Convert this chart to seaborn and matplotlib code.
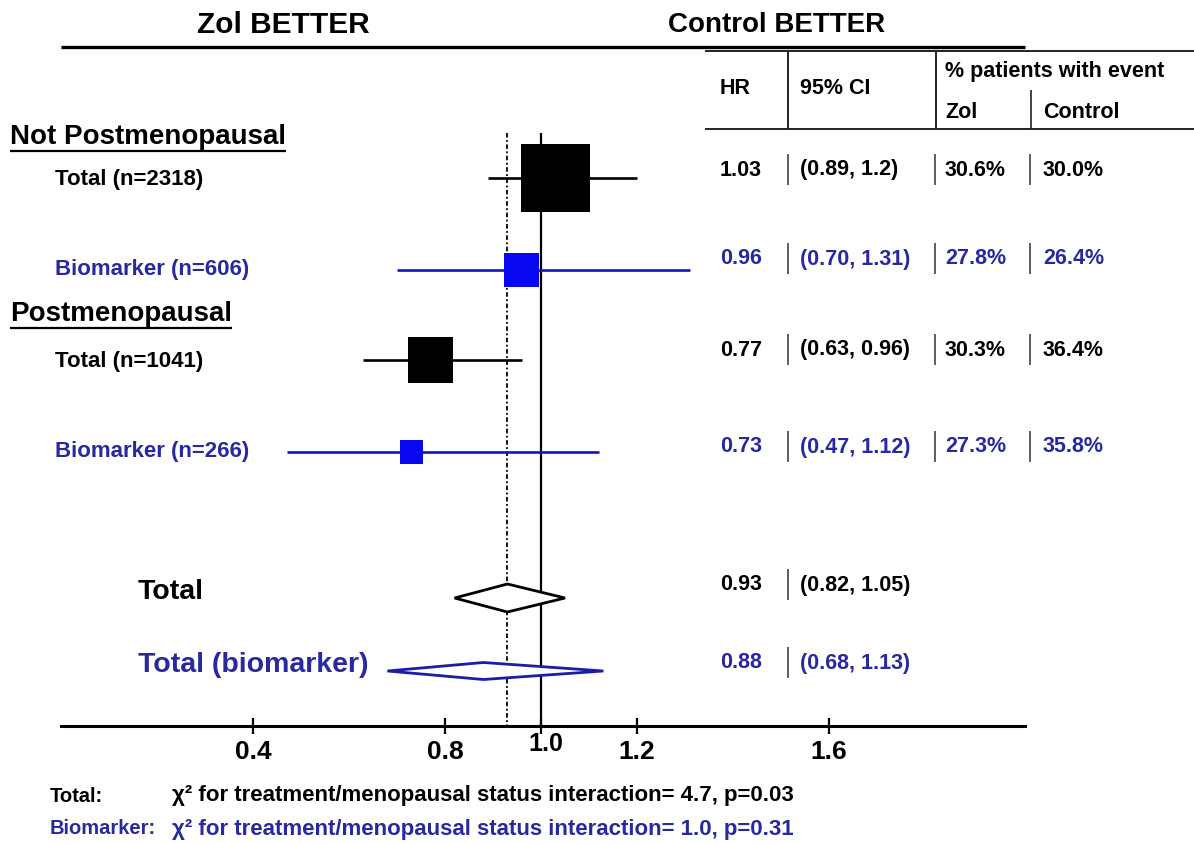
import numpy as np
import pandas as pd
import matplotlib
matplotlib.use("Agg")
import matplotlib.pyplot as plt
import seaborn as sns

# ---------------- data ----------------
groups = ["Not Postmenopausal", "Postmenopausal"]
row_labels = ["Total (n=2318)", "Biomarker (n=606)", "Total (n=1041)", "Biomarker (n=266)"]
row_n = [2318, 606, 1041, 266]
row_kind = ["total", "bio", "total", "bio"]
row_hr = [1.03, 0.96, 0.77, 0.73]
row_lo = [0.89, 0.70, 0.63, 0.47]
row_hi = [1.20, 1.31, 0.96, 1.12]
row_hr_text = ["1.03", "0.96", "0.77", "0.73"]
row_ci_text = ["(0.89, 1.2)", "(0.70, 1.31)", "(0.63, 0.96)", "(0.47, 1.12)"]
row_pct_zol = ["30.6%", "27.8%", "30.3%", "27.3%"]
row_pct_ctrl = ["30.0%", "26.4%", "36.4%", "35.8%"]

sum_labels = ["Total", "Total (biomarker)"]
sum_kind = ["total", "bio"]
sum_hr = [0.93, 0.88]
sum_lo = [0.82, 0.68]
sum_hi = [1.05, 1.13]
sum_hr_text = ["0.93", "0.88"]
sum_ci_text = ["(0.82, 1.05)", "(0.68, 1.13)"]

xticks = [0.4, 0.8, 1.0, 1.2, 1.6]
xtick_labels = ["0.4", "0.8", "1.0", "1.2", "1.6"]

footer_left = ["Total:", "Biomarker:"]
footer_right = ["\u03c7\u00b2 for treatment/menopausal status interaction= 4.7, p=0.03",
                "\u03c7\u00b2 for treatment/menopausal status interaction= 1.0, p=0.31"]

# ---------------- style ----------------
sns.set_theme(style="white")
plt.rcParams['font.family'] = ['Liberation Sans', 'DejaVu Sans']
plt.rcParams['font.weight'] = 'bold'

BLACK = "#000000"
TXT_BLUE = "#2828a0"
SQ_BLUE = "#0808f0"
LN_BLUE = "#1414c0"
DM_BLUE = "#1c1ca8"
text_col = {"total": BLACK, "bio": TXT_BLUE}
mark_col = {"total": BLACK, "bio": SQ_BLUE}
line_col = {"total": BLACK, "bio": LN_BLUE}
diam_col = {"total": BLACK, "bio": DM_BLUE}

W, H = 1194, 843
fig = plt.figure(figsize=(W / 100, H / 100), dpi=100)
fig.patch.set_facecolor("white")

# main forest axes: x in HR units, y in row-pixel units
ax_left, ax_right, ax_bottom = 61, 1025, 726
ax = fig.add_axes([ax_left / W, (H - ax_bottom) / H, (ax_right - ax_left) / W, ax_bottom / H])
ax.set_facecolor("none")
xmax = (ax_right - ax_left) / 480.0
ax.set_xlim(0, xmax)
ax.set_ylim(ax_bottom, 0)
for s in ["top", "left", "right"]:
    ax.spines[s].set_visible(False)
ax.spines["bottom"].set_linewidth(2.2)
ax.spines["bottom"].set_color(BLACK)
ax.set_yticks([])
ax.set_xticks(xticks)
ax.set_xticklabels([("" if t == 1.0 else l) for t, l in zip(xticks, xtick_labels)])
ax.tick_params(axis="x", bottom=True, direction="inout", length=12, width=1.6, color=BLACK,
               pad=4, labelsize=19, labelcolor=BLACK)
ax.grid(False)

row_y = [178, 270, 360, 452]
sum_y = [598, 671]
sum_half_h = [14, 8.5]

# reference lines
ax.vlines(1.0, 133, ax_bottom, color=BLACK, lw=1.6, zorder=2)
ax.vlines(sum_hr[0], 133, ax_bottom, color=BLACK, lw=1.3, linestyles=(0, (2.5, 1.4, 1, 1.4)), zorder=2)
# top header rule
ax.hlines(47, 0, xmax, color=BLACK, lw=2.4, clip_on=False)

# CI lines
for y, lo, hi, k in zip(row_y, row_lo, row_hi, row_kind):
    ax.hlines(y, lo, hi, color=line_col[k], lw=1.9, zorder=3)

# squares sized by sqrt(n)
df = pd.DataFrame({"hr": row_hr, "y": row_y, "n": row_n, "kind": row_kind})
sizes = (1.02 * np.sqrt(df["n"].values)) ** 2
sns.scatterplot(data=df, x="hr", y="y", hue="kind", palette=mark_col, marker="s",
                s=sizes, linewidth=0, legend=False, ax=ax, zorder=4)
ax.set_xlabel("")
ax.set_ylabel("")

# summary diamonds
for y, hh, h, lo, hi, k in zip(sum_y, sum_half_h, sum_hr, sum_lo, sum_hi, sum_kind):
    ax.fill([lo, h, hi, h, lo], [y, y - hh, y, y + hh, y], facecolor="white",
            edgecolor=diam_col[k], lw=2.0, zorder=4)

# overlay axes in pixel coordinates for text & table
ov = fig.add_axes([0, 0, 1, 1])
ov.set_xlim(0, W)
ov.set_ylim(H, 0)
ov.set_axis_off()

ov.text(283, 25, "Zol BETTER", fontsize=21.5, ha="center", va="center", color=BLACK)
ov.text(777, 25, "Control BETTER", fontsize=20, ha="center", va="center", color=BLACK)

# "1.0" label raised
ov.text(546, 744, "1.0", fontsize=18, ha="center", va="center", color=BLACK)

# group headers with underline
group_y = [137, 314]
group_texts = []
for g, y in zip(groups, group_y):
    group_texts.append(ov.text(10, y, g, fontsize=20, ha="left", va="center", color=BLACK))

# row labels
row_label_y = [180, 270, 362, 452]
for lab, y, k in zip(row_labels, row_label_y, row_kind):
    ov.text(55, y, lab, fontsize=16, ha="left", va="center", color=text_col[k])
sum_label_y = [592, 665]
for lab, y, k in zip(sum_labels, sum_label_y, sum_kind):
    ov.text(138, y, lab, fontsize=20.5, ha="left", va="center", color=text_col[k])

# table header
TL = 705
ov.hlines([51, 129], TL, W, color="#222222", lw=1.4)
ov.vlines([788, 936], 51, 129, color="#222222", lw=1.4)
ov.vlines(1031, 90, 129, color="#222222", lw=1.2)
hdr_fs = 15.5
ov.text(720, 89, "HR", fontsize=hdr_fs, ha="left", va="center", color=BLACK)
ov.text(800, 89, "95% CI", fontsize=hdr_fs, ha="left", va="center", color=BLACK)
ov.text(945, 72, "% patients with event", fontsize=hdr_fs, ha="left", va="center", color=BLACK)
ov.text(945, 112, "Zol", fontsize=hdr_fs, ha="left", va="center", color=BLACK)
ov.text(1043, 112, "Control", fontsize=hdr_fs, ha="left", va="center", color=BLACK)

# table rows
tab_fs = 15.5
row_tab_y = [170, 259, 350, 447]
for y, k, a, b, c, d in zip(row_tab_y, row_kind, row_hr_text, row_ci_text, row_pct_zol, row_pct_ctrl):
    col = text_col[k]
    ov.text(720, y, a, fontsize=tab_fs, ha="left", va="center", color=col)
    ov.text(800, y, b, fontsize=tab_fs, ha="left", va="center", color=col)
    ov.text(945, y, c, fontsize=tab_fs, ha="left", va="center", color=col)
    ov.text(1043, y, d, fontsize=tab_fs, ha="left", va="center", color=col)
    ov.vlines([788, 935, 1030], y - 16, y + 15, color="#333333", lw=1.1)
sum_tab_y = [585, 663]
for y, k, a, b in zip(sum_tab_y, sum_kind, sum_hr_text, sum_ci_text):
    col = text_col[k]
    ov.text(720, y, a, fontsize=tab_fs, ha="left", va="center", color=col)
    ov.text(800, y, b, fontsize=tab_fs, ha="left", va="center", color=col)
    ov.vlines([788], y - 16, y + 15, color="#333333", lw=1.1)

# footer
foot_y = [796, 829]
foot_col = [BLACK, TXT_BLUE]
for l, r, y, c in zip(footer_left, footer_right, foot_y, foot_col):
    ov.text(50, y, l, fontsize=14.5, ha="left", va="center", color=c)
    ov.text(172, y, r, fontsize=16, ha="left", va="center", color=c)

# underline group headers
fig.canvas.draw()
renderer = fig.canvas.get_renderer()
for t in group_texts:
    bb = t.get_window_extent(renderer)
    ov.hlines(H - bb.y0 + 1, bb.x0, bb.x1, color=BLACK, lw=1.6)

fig.savefig("out.png", dpi=100, facecolor="white")
